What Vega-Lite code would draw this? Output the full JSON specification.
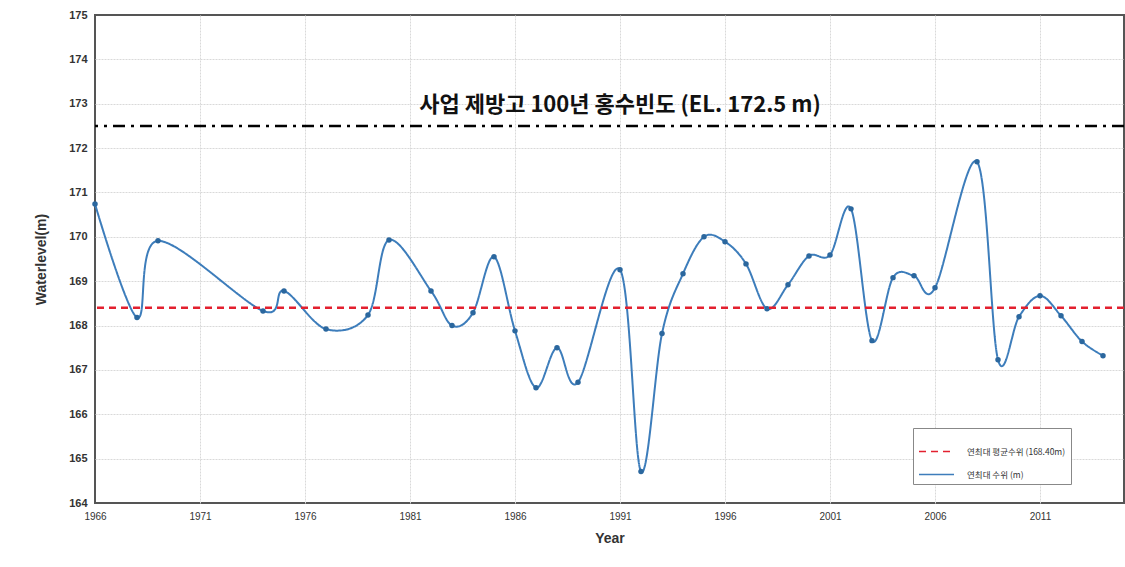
{
  "$schema": "https://vega.github.io/schema/vega-lite/v6.json",
  "width": 1029,
  "height": 488,
  "autosize": {"type": "none"},
  "padding": {"left": 95, "top": 15, "right": 1, "bottom": 64},
  "background": "white",
  "config": {
    "view": {"stroke": "#555555", "strokeWidth": 2},
    "font": "Liberation Sans",
    "axis": {
      "gridColor": "#d9d9d9",
      "gridDash": [2, 1],
      "gridWidth": 1,
      "domain": false,
      "ticks": false,
      "labelColor": "#333333",
      "labelFontWeight": "bold",
      "titleColor": "#333333",
      "titleFontWeight": "bold",
      "titleFontSize": 14
    }
  },
  "layer": [
    {
      "data": {"values": [
        {"year": 1966, "level": 170.74, "series": "연최대 수위 (m)"},
        {"year": 1968, "level": 168.18, "series": "연최대 수위 (m)"},
        {"year": 1969, "level": 169.91, "series": "연최대 수위 (m)"},
        {"year": 1974, "level": 168.33, "series": "연최대 수위 (m)"},
        {"year": 1975, "level": 168.78, "series": "연최대 수위 (m)"},
        {"year": 1977, "level": 167.92, "series": "연최대 수위 (m)"},
        {"year": 1979, "level": 168.24, "series": "연최대 수위 (m)"},
        {"year": 1980, "level": 169.93, "series": "연최대 수위 (m)"},
        {"year": 1982, "level": 168.78, "series": "연최대 수위 (m)"},
        {"year": 1983, "level": 168.0, "series": "연최대 수위 (m)"},
        {"year": 1984, "level": 168.29, "series": "연최대 수위 (m)"},
        {"year": 1985, "level": 169.55, "series": "연최대 수위 (m)"},
        {"year": 1986, "level": 167.88, "series": "연최대 수위 (m)"},
        {"year": 1987, "level": 166.6, "series": "연최대 수위 (m)"},
        {"year": 1988, "level": 167.5, "series": "연최대 수위 (m)"},
        {"year": 1989, "level": 166.72, "series": "연최대 수위 (m)"},
        {"year": 1991, "level": 169.26, "series": "연최대 수위 (m)"},
        {"year": 1992, "level": 164.71, "series": "연최대 수위 (m)"},
        {"year": 1993, "level": 167.82, "series": "연최대 수위 (m)"},
        {"year": 1994, "level": 169.17, "series": "연최대 수위 (m)"},
        {"year": 1995, "level": 170.0, "series": "연최대 수위 (m)"},
        {"year": 1996, "level": 169.89, "series": "연최대 수위 (m)"},
        {"year": 1997, "level": 169.39, "series": "연최대 수위 (m)"},
        {"year": 1998, "level": 168.38, "series": "연최대 수위 (m)"},
        {"year": 1999, "level": 168.92, "series": "연최대 수위 (m)"},
        {"year": 2000, "level": 169.57, "series": "연최대 수위 (m)"},
        {"year": 2001, "level": 169.59, "series": "연최대 수위 (m)"},
        {"year": 2002, "level": 170.63, "series": "연최대 수위 (m)"},
        {"year": 2003, "level": 167.66, "series": "연최대 수위 (m)"},
        {"year": 2004, "level": 169.08, "series": "연최대 수위 (m)"},
        {"year": 2005, "level": 169.12, "series": "연최대 수위 (m)"},
        {"year": 2006, "level": 168.85, "series": "연최대 수위 (m)"},
        {"year": 2008, "level": 171.69, "series": "연최대 수위 (m)"},
        {"year": 2009, "level": 167.23, "series": "연최대 수위 (m)"},
        {"year": 2010, "level": 168.2, "series": "연최대 수위 (m)"},
        {"year": 2011, "level": 168.67, "series": "연최대 수위 (m)"},
        {"year": 2012, "level": 168.22, "series": "연최대 수위 (m)"},
        {"year": 2013, "level": 167.64, "series": "연최대 수위 (m)"},
        {"year": 2014, "level": 167.32, "series": "연최대 수위 (m)"}
      ]},
      "layer": [
        {
          "mark": {"type": "line", "interpolate": "cardinal", "strokeWidth": 2},
          "encoding": {
            "x": {
              "field": "year",
              "type": "quantitative",
              "title": "Year",
              "scale": {"domain": [1966, 2015], "nice": false, "zero": false},
              "axis": {
                "values": [1966, 1971, 1976, 1981, 1986, 1991, 1996, 2001, 2006, 2011],
                "format": "d",
                "labelFontSize": 10,
                "labelFontWeight": "normal",
                "labelPadding": 8,
                "titlePadding": 10,
                "labelFlush": false,
                "gridOpacity": {"condition": {"test": "datum.value === 1966", "value": 0}, "value": 1}
              }
            },
            "y": {
              "field": "level",
              "type": "quantitative",
              "title": "Waterlevel(m)",
              "scale": {"domain": [164, 175], "nice": false, "zero": false},
              "axis": {
                "values": [164, 165, 166, 167, 168, 169, 170, 171, 172, 173, 174, 175],
                "labelFontSize": 11,
                "labelPadding": 8,
                "titlePadding": 20,
                "gridOpacity": {"condition": {"test": "datum.value === 164 || datum.value === 175", "value": 0}, "value": 1}
              }
            },
            "color": {
              "field": "series",
              "type": "nominal",
              "scale": {"domain": ["연최대 평균수위 (168.40m)", "연최대 수위 (m)"], "range": ["#e3202f", "#3d7dbb"]},
              "legend": {
                "title": null,
                "orient": "none",
                "legendX": 818,
                "legendY": 413,
                "symbolType": "stroke",
                "symbolSize": 1225,
                "symbolStrokeWidth": 1.5,
                "labelFont": "Noto Sans CJK KR",
                "labelFontSize": 8.5,
                "labelColor": "#333333",
                "strokeColor": "#888888",
                "fillColor": "white",
                "padding": 5,
                "rowPadding": -13,
                "labelOffset": 12,
                "labelLimit": 200
              }
            },
            "strokeDash": {
              "field": "series",
              "type": "nominal",
              "scale": {"domain": ["연최대 평균수위 (168.40m)", "연최대 수위 (m)"], "range": [[7, 5], [1, 0]]},
              "legend": {
                "title": null,
                "orient": "none",
                "legendX": 818,
                "legendY": 413,
                "symbolType": "stroke",
                "symbolSize": 1225,
                "labelFont": "Noto Sans CJK KR",
                "labelFontSize": 8.5,
                "strokeColor": "#888888",
                "fillColor": "white",
                "padding": 5,
                "rowPadding": -13,
                "labelOffset": 12,
                "labelLimit": 200
              }
            }
          }
        },
        {
          "mark": {"type": "point", "filled": true, "size": 30, "opacity": 1, "color": "#2b679e"},
          "encoding": {
            "x": {"field": "year", "type": "quantitative"},
            "y": {"field": "level", "type": "quantitative"}
          }
        }
      ]
    },
    {
      "data": {"values": [{"flood": 172.5}]},
      "mark": {"type": "rule", "color": "black", "strokeWidth": 2.5, "strokeDash": [12, 6, 3, 6]},
      "encoding": {
        "y": {"field": "flood", "type": "quantitative"}
      }
    },
    {
      "data": {"values": [{"year": 1991, "level": 172.98, "label": "사업 제방고 100년 홍수빈도 (EL. 172.5 m)"}]},
      "mark": {"type": "text", "font": "Noto Sans CJK KR", "fontSize": 22, "fontWeight": "bold", "color": "#111111", "align": "center", "baseline": "middle"},
      "encoding": {
        "x": {"field": "year", "type": "quantitative"},
        "y": {"field": "level", "type": "quantitative"},
        "text": {"field": "label"}
      }
    },
    {
      "data": {"values": [{"series": "연최대 평균수위 (168.40m)", "level": 168.4}]},
      "mark": {"type": "rule", "strokeWidth": 2.5},
      "encoding": {
        "y": {"field": "level", "type": "quantitative"},
        "color": {"field": "series", "type": "nominal"},
        "strokeDash": {"field": "series", "type": "nominal"}
      }
    }
  ]
}
